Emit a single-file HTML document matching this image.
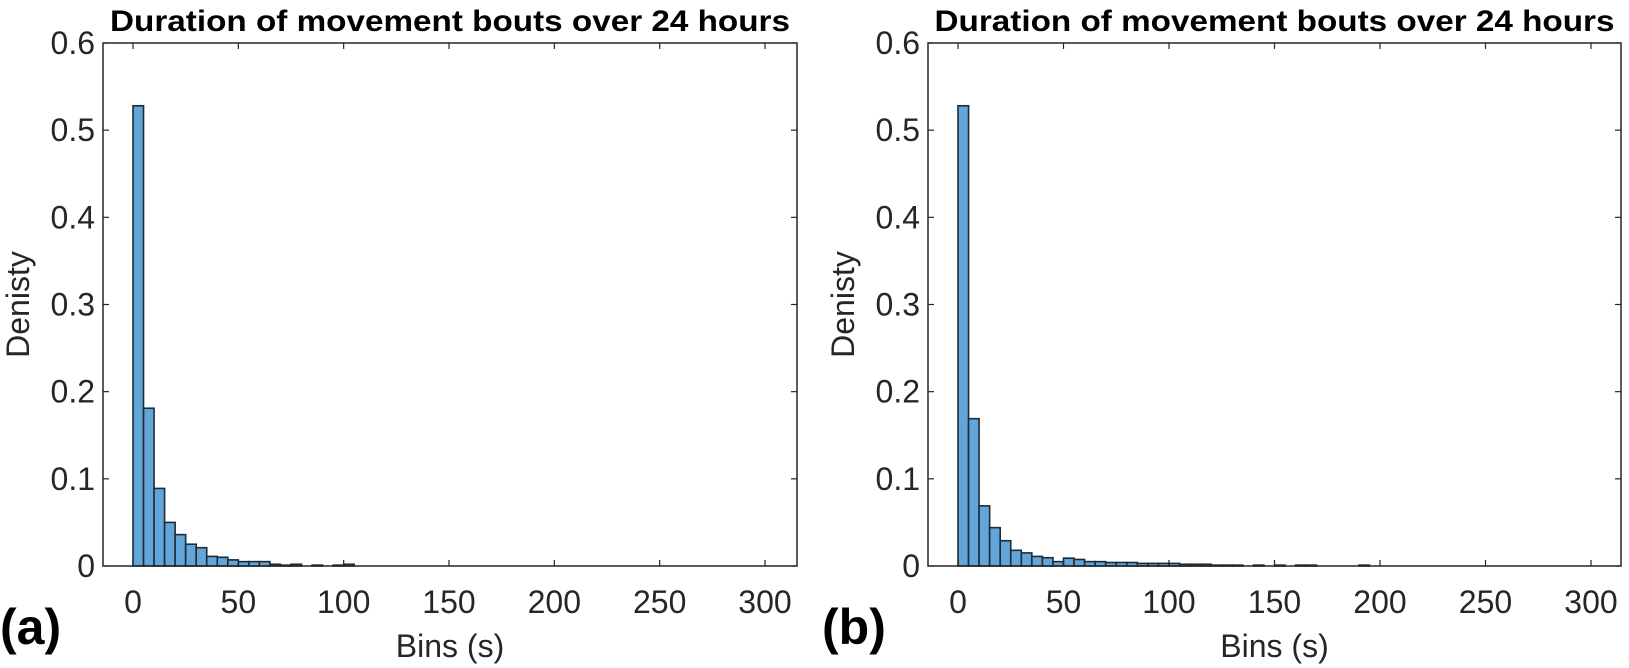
<!DOCTYPE html>
<html><head><meta charset="utf-8"><style>
html,body{margin:0;padding:0;background:#fff;}
svg{display:block;font-family:"Liberation Sans",Arial,sans-serif;}
</style></head><body>
<svg id="fig" width="1629" height="668" viewBox="0 0 1629 668"></svg>
<script>
const binWidth = 5;
const xTicks = [0, 50, 100, 150, 200, 250, 300];
const yTicks = [0, 0.1, 0.2, 0.3, 0.4, 0.5, 0.6];
const yTickLabels = ["0", "0.1", "0.2", "0.3", "0.4", "0.5", "0.6"];
const densityA = [0.528, 0.181, 0.089, 0.050, 0.036, 0.025, 0.021, 0.011, 0.010, 0.007, 0.005, 0.005, 0.005, 0.002, 0.001, 0.002, 0, 0.001, 0, 0.001, 0.002];
const densityB = [0.528, 0.169, 0.069, 0.044, 0.029, 0.018, 0.015, 0.011, 0.0095, 0.005, 0.009, 0.0075, 0.005, 0.005, 0.004, 0.004, 0.004, 0.003, 0.003, 0.003, 0.003, 0.002, 0.002, 0.002, 0.001, 0.001, 0.001, 0, 0.001, 0, 0.001, 0, 0.001, 0.001, 0, 0, 0, 0, 0.001];
const panels = [
  {id:"a", data:densityA, L:103, R:797, x0:133, x300:765, label:"(a)", labelX:0},
  {id:"b", data:densityB, L:928, R:1621, x0:958, x300:1591, label:"(b)", labelX:822}
];
const TOP = 43, BOT = 566;
const NS = "http://www.w3.org/2000/svg";
const svg = document.getElementById("fig");
function mk(tag, attrs, parent){const e=document.createElementNS(NS,tag);for(const k in attrs)e.setAttribute(k,attrs[k]);(parent||svg).appendChild(e);return e;}
panels.forEach(p=>{
  const g = mk("g",{});
  
  
  const xs = v => p.x0 + (v/300)*(p.x300-p.x0);
  const ys = v => BOT - (v/0.6)*(BOT-TOP);
  const bg = mk("rect",{x:p.L,y:TOP,width:p.R-p.L,height:BOT-TOP,fill:"#fff"},g);
  
  
  p.data.forEach((v,i)=>{
    if(v<=0) return;
    const r = mk("rect",{x:xs(i*binWidth),y:ys(v),width:xs(binWidth)-xs(0),height:BOT-ys(v),fill:"#62a5d8",stroke:"#1d2b38","stroke-width":1.6},g);
    
    
  });
  const box = mk("rect",{x:p.L,y:TOP,width:p.R-p.L,height:BOT-TOP,fill:"none",stroke:"#262626","stroke-width":1.5},g);
  
  
  xTicks.forEach(t=>{
    const x = xs(t);
    mk("line",{x1:x,y1:BOT,x2:x,y2:BOT-6,stroke:"#262626","stroke-width":1.2},g);
    mk("line",{x1:x,y1:TOP,x2:x,y2:TOP+6,stroke:"#262626","stroke-width":1.2},g);
    const tx = mk("text",{x:x,y:613,"text-anchor":"middle","font-size":32,fill:"#262626"},g);
    tx.textContent = t;
    
    
  });
  yTicks.forEach((t,i)=>{
    const y = ys(t);
    mk("line",{x1:p.L,y1:y,x2:p.L+6,y2:y,stroke:"#262626","stroke-width":1.2},g);
    mk("line",{x1:p.R,y1:y,x2:p.R-6,y2:y,stroke:"#262626","stroke-width":1.2},g);
    const ty = mk("text",{x:p.L-8,y:y+11,"text-anchor":"end","font-size":32,fill:"#262626"},g);
    ty.textContent = yTickLabels[i];
    
    
  });
  const title = mk("text",{x:(p.L+p.R)/2,y:31,"text-anchor":"middle","font-size":30,"font-weight":"bold",fill:"#000",textLength:680,lengthAdjust:"spacingAndGlyphs"},g);
  title.textContent = "Duration of movement bouts over 24 hours";
  
  
  const xl = mk("text",{x:(p.L+p.R)/2,y:657,"text-anchor":"middle","font-size":32,fill:"#262626"},g);
  xl.textContent = "Bins (s)";
  
  
  const yx = p.L-74, yy = (TOP+BOT)/2;
  const yl = mk("text",{x:yx,y:yy,"text-anchor":"middle","font-size":32,fill:"#262626",transform:"rotate(-90 "+yx+" "+yy+")"},g);
  yl.textContent = "Denisty";
  
  
  const pl = mk("text",{x:p.labelX,y:644,"font-size":50,"font-weight":"bold",fill:"#000"},g);
  pl.textContent = p.label;
  
  
});
</script>
</body></html>
